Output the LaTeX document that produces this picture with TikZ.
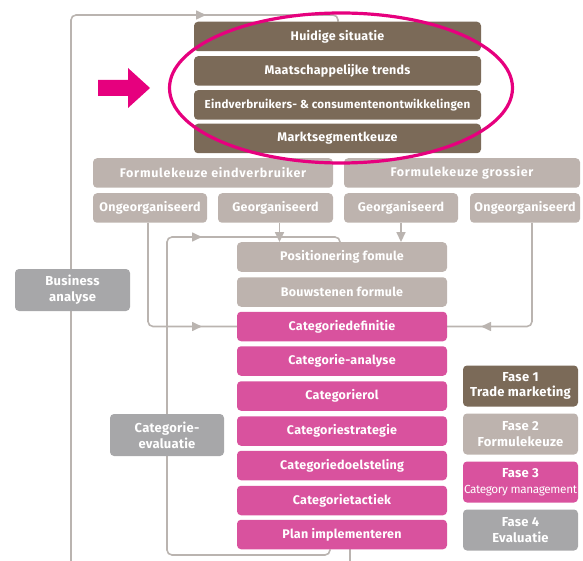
\documentclass[tikz,border=0pt]{standalone}
\usepackage{fontspec}
\setmainfont{Fira Sans}[LetterSpace=2]
\usetikzlibrary{arrows.meta,backgrounds,calc,shapes.geometric}
\definecolor{cbrown}{HTML}{7B6A58}
\definecolor{clight}{HTML}{BDB3AE}
\definecolor{cpink}{HTML}{D9529E}
\definecolor{cgray}{HTML}{A7A7A9}
\definecolor{cmag}{HTML}{E6007E}
\definecolor{cline}{HTML}{BAB4B0}
\tikzset{
  box/.style={rounded corners=4pt, text=white, font=\fontsize{12.5}{14}\selectfont\bfseries, inner sep=0pt, align=center, minimum height=29.5pt},
  brownbox/.style={box, fill=cbrown, minimum width=287pt},
  lightbox/.style={box, fill=clight},
  pinkbox/.style={box, fill=cpink, minimum width=210pt},
  midbox/.style={box, fill=clight, minimum width=210pt},
  graybox/.style={box, fill=cgray, font=\fontsize{13}{16}\selectfont\bfseries},
  fasebox/.style={box, minimum width=115pt, minimum height=41pt, font=\fontsize{13}{15.5}\selectfont\bfseries},
  conn/.style={draw=cline, line width=1.6pt, rounded corners=5pt},
  tip/.style={draw=cline, line width=1.6pt, -{Triangle[length=10pt,width=9pt]}},
}
\begin{document}
\begin{tikzpicture}[x=1pt,y=-1pt]
\useasboundingbox (0,0) rectangle (583,561);
% top brown boxes
\node[brownbox] (hs) at (337.5,36.5) {Huidige situatie};
\node[brownbox] (mt) at (337.5,71) {Maatschappelijke trends};
\node[brownbox] (ec) at (337.5,105) {\fontsize{11.6}{13}\selectfont Eindverbruikers- \& consumentenontwikkelingen};
\node[brownbox] (ms) at (337.5,138.5) {Marktsegmentkeuze};
% formulekeuze
\node[lightbox, minimum width=240pt] (fe) at (213,173) {\addfontfeatures{LetterSpace=6}Formulekeuze eindverbruiker};
\node[lightbox, minimum width=236pt] (fg) at (462,173) {\addfontfeatures{LetterSpace=6}Formulekeuze grossier};
\node[lightbox, minimum width=114pt] (o1) at (150,208) {Ongeorganiseerd};
\node[lightbox, minimum width=115pt] (g1) at (275.5,208) {Georganiseerd};
\node[lightbox, minimum width=114pt] (g2) at (401,208) {Georganiseerd};
\node[lightbox, minimum width=110pt] (o2) at (525,208) {Ongeorganiseerd};
% middle column
\node[midbox] (pf) at (342,257) {Positionering fomule};
\node[midbox] (bf) at (342,292) {Bouwstenen formule};
\node[pinkbox] (cd) at (342,326.5) {Categoriedefinitie};
\node[pinkbox] (ca) at (342,361) {Categorie-analyse};
\node[pinkbox] (cr) at (342,396) {Categorierol};
\node[pinkbox] (cs) at (342,431) {Categoriestrategie};
\node[pinkbox] (cdl) at (342,465.5) {Categoriedoelsteling};
\node[pinkbox] (ct) at (342,500.5) {Categorietactiek};
\node[pinkbox] (pi) at (342,534.5) {Plan implementeren};
% side boxes
\node[graybox, minimum width=115pt, minimum height=42pt] (ba) at (72.5,290) {Business\\analyse};
\node[graybox, minimum width=114pt, minimum height=42pt] (ce) at (167,435) {Categorie-\\evaluatie};
% fase legend
\node[fasebox, fill=cbrown] (f1) at (520.5,386) {Fase 1\\Trade marketing};
\node[fasebox, fill=clight] (f2) at (520.5,434) {Fase 2\\Formulekeuze};
\node[fasebox, fill=cpink] (f3) at (520.5,482) {Fase 3\\\resizebox{113pt}{!}{\mdseries\addfontfeatures{LetterSpace=-3}Category management}};
\node[fasebox, fill=cgray] (f4) at (520.5,530) {Fase 4\\Evaluatie};
% highlight
\fill[cmag] (98,80) -- (128,80) -- (128,68) -- (150,88) -- (128,108) -- (128,96) -- (98,96) -- cycle;
\node[draw=cmag, line width=3.2pt, ellipse, minimum width=343pt, minimum height=150pt, inner sep=0pt] (hl) at (341,88) {};
% connectors
\begin{scope}[on background layer]
  \coordinate (obl) at (71,561);
  \coordinate (otl) at (71,15);
  \coordinate (ota) at (80,15);
  \coordinate (otb) at (206,15);
  \coordinate (otr) at (338,15);
  \draw[conn] (obl) -- (otl) -- (otr) -- (otr |- hs.north);
  \draw[tip] (ota) -- (otb);
  \coordinate (obr) at (350,561);
  \draw[conn] (pi.south -| obr) -- (obr);
  % inner loop
  \coordinate (ib1) at (330,555);
  \coordinate (ib2) at (167,555);
  \coordinate (it1) at (167,237);
  \coordinate (it2) at (340,237);
  \coordinate (ita) at (176,237);
  \coordinate (itb) at (202,237);
  \draw[conn] (pi.south -| ib1) -- (ib1) -- (ib2) -- (it1) -- (it2) -- (it2 |- pf.north);
  \draw[tip] (ita) -- (itb);
  % georganiseerd
  \draw[tip] ([xshift=4pt]g1.south) -- ([xshift=4pt]g1.south |- pf.north);
  \draw[tip] (g2.south) -- (g2.south |- pf.north);
  % ongeorganiseerd
  \coordinate (l1) at (148,326.5);
  \coordinate (l2) at (202,326.5);
  \draw[conn] (o1.south -| l1) -- (l1) -- (cd.west);
  \draw[tip] ([xshift=10pt]l1) -- (l2);
  \coordinate (r1) at (532,326.5);
  \coordinate (r2) at (481,326.5);
  \draw[conn] (o2.south -| r1) -- (r1) -- (cd.east);
  \draw[tip] ([xshift=-10pt]r1) -- (r2);
\end{scope}
\end{tikzpicture}
\end{document}
